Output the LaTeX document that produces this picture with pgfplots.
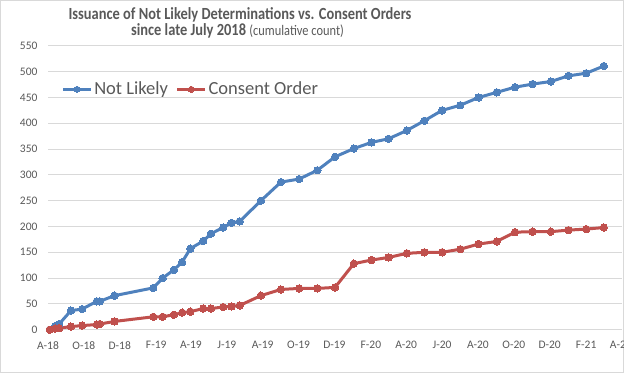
\documentclass[border=0pt]{standalone}
\usepackage{pgfplots}
\pgfplotsset{compat=1.18}
\usepackage{pgfplotstable}
\usepackage{fontspec}
\setmainfont{Carlito}
\newfontfamily\titlefont[FakeStretch=0.85]{Carlito}
\definecolor{nlblue}{HTML}{4F81BD}
\definecolor{cored}{HTML}{C0504D}
\definecolor{gridgray}{HTML}{D9D9D9}
\definecolor{txtgray}{HTML}{595959}

\pgfplotstableread{
day nl co
3 0 0
12 7 2
19 11 3
39 37 6
58 40 8
83 55 10
88 55 11
113 66 16
179 81 25
195 100 25
214 116 29
228 131 33
242 157 35
264 172 41
277 186 41
298 198 44
312 207 45
326 210 47
362 250 66
396 286 78
427 292 80
458 309 80
488 335 82
520 351 128
550 363 135
579 370 140
610 386 148
640 405 150
670 425 150
701 435 156
732 450 166
763 460 171
794 470 189
824 476 190
855 481 190
885 492 193
915 497 195
945 511 198
}\data

\begin{document}
\begin{tikzpicture}[x=1pt,y=1pt]
\useasboundingbox (0,0) rectangle (624,373);
\draw[gridgray, line width=1pt] (0.5,0.5) rectangle (623.5,372.5);
\node[anchor=base, font=\titlefont\fontsize{17}{18}\selectfont\bfseries, text=txtgray] at (240,353.5) {Issuance of Not Likely Determinations vs. Consent Orders};
\node[anchor=base, font=\titlefont\fontsize{17}{18}\selectfont, text=txtgray] at (237.5,337) {\textbf{since late July 2018} {\fontsize{14.6}{16}\selectfont(cumulative count)}};
\begin{axis}[
  at={(48pt,43.3pt)}, anchor=south west,
  scale only axis, width=574pt, height=283.8pt,
  xmin=0, xmax=976, ymin=0, ymax=550,
  ytick={0,50,...,550},
  xtick={0,61,122,184,243,304,365,426,487,549,609,670,731,792,853,915,974},
  xticklabels={A-18,O-18,D-18,F-19,A-19,J-19,A-19,O-19,D-19,F-20,A-20,J-20,A-20,O-20,D-20,F-21,A-21},
  axis line style={draw=none},
  major tick length=0pt,
  ymajorgrids, major grid style={gridgray, line width=1pt},
  tick label style={font=\fontsize{11.5}{13}\selectfont, text=txtgray},
  /pgf/number format/assume math mode=true,
  xticklabel style={yshift=-8pt},
  yticklabel style={xshift=-7pt},
  clip=false,
  legend columns=2,
  legend style={draw=none, fill=none, inner sep=0pt, outer sep=0pt,
    at={(rel axis cs:0.024,0.847)}, anchor=west,
    font=\fontsize{18.5}{20}\selectfont, text=txtgray,
    /tikz/every even column/.append style={column sep=6pt}},
  legend image code/.code={\draw[#1, line width=2.5pt, mark size=3pt, mark repeat=2, mark phase=2] plot coordinates {(0pt,0pt) (14pt,0pt) (28pt,0pt)};},
]
\addplot[nlblue, line width=3pt, mark=*, mark size=3.7pt, mark options={line width=0pt, fill=nlblue}] table[x=day, y=nl] {\data};
\addlegendentry{Not Likely}
\addplot[cored, line width=3pt, mark=*, mark size=3.7pt, mark options={line width=0pt, fill=cored}] table[x=day, y=co] {\data};
\addlegendentry{Consent Order}
\end{axis}
\end{tikzpicture}
\end{document}
